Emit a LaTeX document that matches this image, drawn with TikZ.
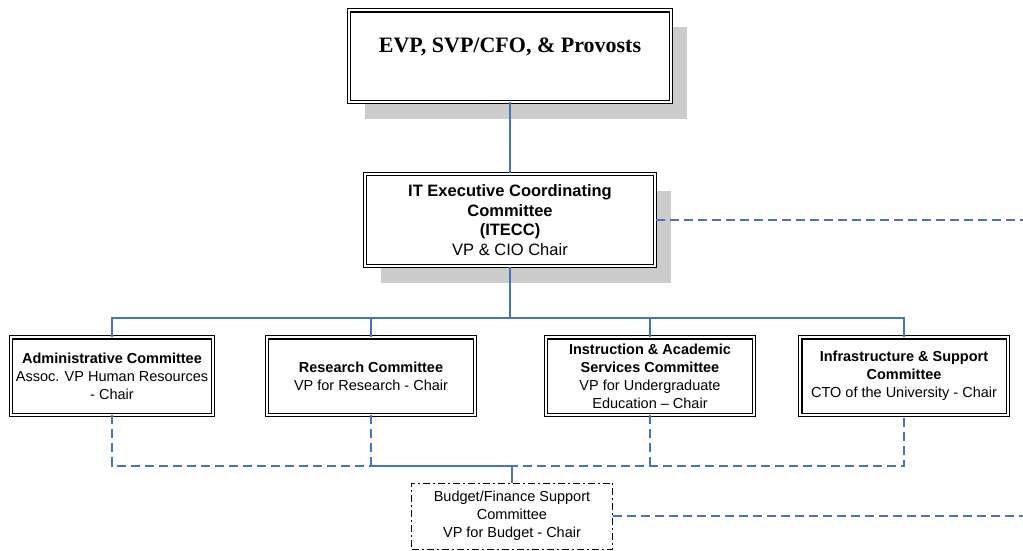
\documentclass[tikz,border=0pt]{standalone}
\usepackage{fontspec}
\setmainfont{Liberation Sans}
\newfontfamily\timesfont{Liberation Serif}
\usetikzlibrary{shadows}

\definecolor{linkblue}{RGB}{68,114,196}
\definecolor{shadowgray}{RGB}{204,204,204}

\tikzset{
  dblbox/.style={draw, double, line width=1.1pt, double distance=2.2pt, fill=white, align=center, inner sep=0pt},
  boxshadow/.style={drop shadow={shadow xshift=16pt, shadow yshift=-17pt, fill=shadowgray, opacity=1}},
  txt/.style={font=\fontsize{14.5}{18}\selectfont},
  link/.style={linkblue, line width=1.3pt},
  dashlink/.style={linkblue, line width=1.5pt, dash pattern=on 9pt off 5pt},
}

\begin{document}
\begin{tikzpicture}[x=1pt, y=-1pt]
\useasboundingbox (0,0) rectangle (1023,550);
%top levels
\node[dblbox, boxshadow, minimum width=322.4pt, minimum height=91.4pt, font=\timesfont\bfseries\fontsize{22}{26}\selectfont, text height=15pt, text depth=23pt] (evp) at (510,56) {EVP, SVP/CFO, \& Provosts};
\node[dblbox, boxshadow, minimum width=290.4pt, minimum height=92.4pt, font=\fontsize{16.5}{19.5}\selectfont] (itecc) at (510,220) {\textbf{IT Executive Coordinating}\\\textbf{Committee}\\\textbf{(ITECC)}\\VP \& CIO Chair};
%committees
\node[dblbox, txt, minimum width=202.4pt, minimum height=77.4pt] (admin) at (112,376) {\textbf{Administrative Committee}\\Assoc. VP Human Resources\\- Chair};
\node[dblbox, txt, minimum width=208.4pt, minimum height=77.4pt] (research) at (371,376) {\textbf{Research Committee}\\VP for Research - Chair};
\node[dblbox, txt, minimum width=208.4pt, minimum height=77.4pt] (instr) at (650,376) {\textbf{Instruction \& Academic}\\\textbf{Services Committee}\\VP for Undergraduate\\Education -- Chair};
\node[dblbox, txt, minimum width=207.4pt, minimum height=77.4pt] (infra) at (904,376) {\textbf{Infrastructure \& Support}\\\textbf{Committee}\\CTO of the University - Chair};
\node[draw, txt, line width=1pt, dash pattern=on 7pt off 3pt on 2pt off 3pt, align=center, inner sep=0pt, minimum width=201pt, minimum height=66pt] (budget) at (512,516) {Budget/Finance Support\\Committee\\VP for Budget - Chair};
%links
\coordinate (bus) at (510,318);
\coordinate (lowbus) at (512,466);
\coordinate (edge) at (1023,0);
\draw[link] (evp.south) -- (itecc.north);
\draw[link] (itecc.south) -- (itecc.south |- bus);
\draw[link] (admin.north) |- (bus) -| (infra.north);
\draw[link] (research.north) -- (research.north |- bus);
\draw[link] (instr.north) -- (instr.north |- bus);
\draw[dashlink] (admin.south) |- (lowbus) -| (infra.south);
\draw[dashlink] (research.south) -- (research.south |- lowbus);
\draw[dashlink] (instr.south) -- (instr.south |- lowbus);
\draw[link] (research.south |- lowbus) -| (budget.north);
\draw[dashlink] (itecc.east) -- (itecc.east -| edge);
\draw[dashlink] (budget.east) -- (budget.east -| edge);
\end{tikzpicture}
\end{document}
